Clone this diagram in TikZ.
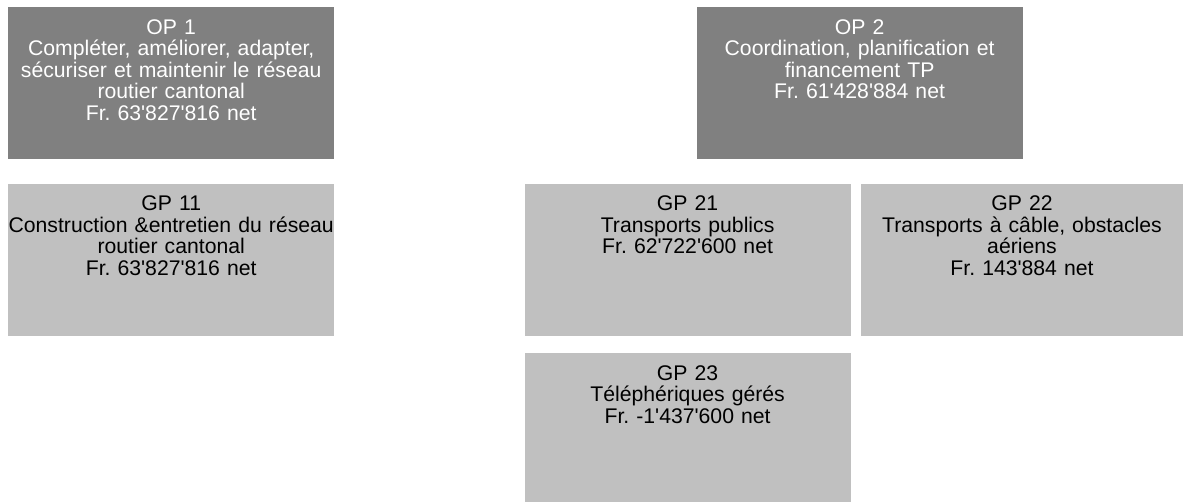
\documentclass[tikz,border=0pt]{standalone}
\usepackage{fontspec}
\setmainfont{Liberation Sans}
\usetikzlibrary{positioning}
\definecolor{opgray}{RGB}{128,128,128}
\definecolor{gpgray}{RGB}{192,192,192}
\newcommand{\apos}{\textquotesingle}
\frenchspacing
\hyphenpenalty=10000

\begin{document}
\begin{tikzpicture}[x=1pt, y=1pt,
        font=\fontsize{21.2}{21.5}\selectfont,
        op/.style={fill=opgray, text=white, align=center, anchor=north west,
            inner xsep=0pt, inner ysep=8pt, text width=326pt,
            text height=19.3pt, text depth=116.7pt},
        gp/.style={op, fill=gpgray, text=black}]
        \useasboundingbox (0,0) rectangle (1183,-502);
        \node[op] (op1) at (8,-7) {OP 1\\ Compléter, améliorer, adapter,\\ sécuriser et maintenir le réseau\\ routier cantonal\\ Fr. 63\apos827\apos816 net};
        \node[op, right=362pt of op1] (op2) {OP 2\\ Coordination, planification et\\ financement TP\\ Fr. 61\apos428\apos884 net};
        \node[gp, below=24pt of op1] (gp11) {GP 11\\ Construction \&entretien du réseau\\ routier cantonal\\ Fr. 63\apos827\apos816 net};
        \node[gp, right=190pt of gp11] (gp21) {GP 21\\ Transports publics\\ Fr. 62\apos722\apos600 net};
        \node[gp, right=10pt of gp21, text width=322pt] (gp22) {GP 22\\ Transports à câble, obstacles\\ aériens\\ Fr. 143\apos884 net};
        \node[gp, below=17pt of gp21, text depth=113.7pt] (gp23) {GP 23\\ Téléphériques gérés\\ Fr. -1\apos437\apos600 net};
    \end{tikzpicture}
\end{document}
